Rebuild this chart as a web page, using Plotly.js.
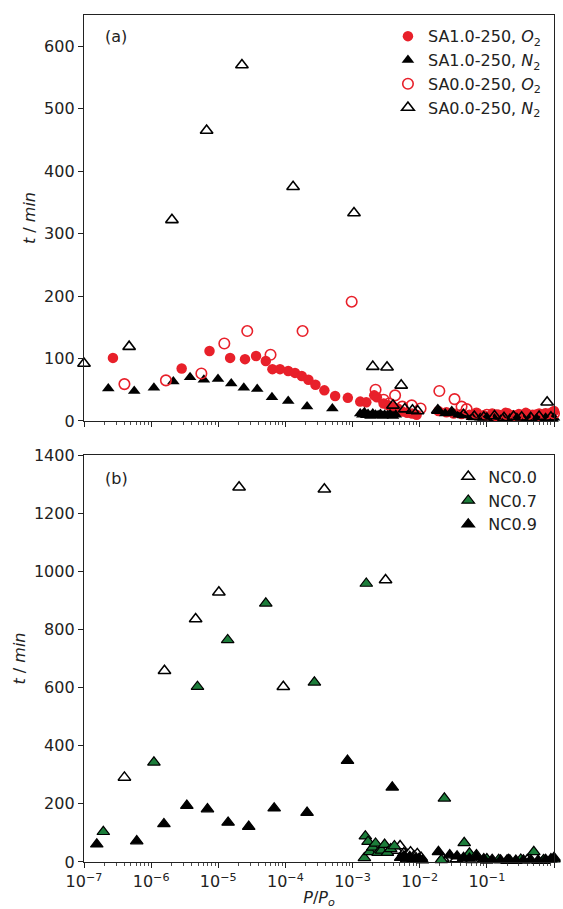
<!DOCTYPE html>
<html>
<head>
<meta charset="utf-8">
<script src="https://cdn.plot.ly/plotly-3.0.1.min.js"></script>
<style>html,body{margin:0;padding:0;background:#fff;}#chart{width:563px;height:909px;}</style>
</head>
<body>
<div id="chart"></div>
<script>
// ---------- Panel (a) data ----------
const sa10O2_x = [2.7e-7, 2.85e-6, 7.4e-6, 1.5e-5, 2.5e-5, 3.65e-5, 5.1e-5, 6.4e-5, 8.3e-5, 1.1e-4, 1.39e-4, 1.75e-4, 2.2e-4, 2.8e-4, 3.8e-4, 5.5e-4, 8.5e-4, 1.3e-3, 1.6e-3, 2.1e-3, 2.3e-3, 2.9e-3, 3.4e-3, 4.0e-3, 4.7e-3, 5.5e-3, 6.5e-3, 7.7e-3, 9e-3, 1.9e-2, 2.5e-2, 3.2e-2, 4.2e-2, 5.5e-2, 7e-2, 9e-2, 0.12, 0.15, 0.19, 0.24, 0.3, 0.38, 0.48, 0.6, 0.75, 0.9, 1.0];
const sa10O2_t = [101, 84, 112, 101, 99, 104, 96, 83, 83, 80, 77, 72, 66, 58, 49, 40, 37, 31, 30, 41, 38, 28, 25, 22, 20, 15, 13, 12, 10, 16, 14, 12, 11, 10, 12, 9, 12, 10, 13, 9, 11, 13, 10, 12, 11, 13, 16];

const sa10N2_x = [2.3e-7, 5.6e-7, 1.1e-6, 2.14e-6, 3.8e-6, 6.1e-6, 9.9e-6, 1.56e-5, 2.4e-5, 3.8e-5, 6.3e-5, 1.1e-4, 2.1e-4, 5.0e-4,
  1.3e-3, 1.4e-3, 1.5e-3, 1.6e-3, 1.7e-3, 1.85e-3, 2.0e-3, 2.2e-3, 2.4e-3, 2.6e-3, 2.8e-3, 3.0e-3, 3.3e-3, 3.6e-3, 4.0e-3, 4.4e-3,
  1.9e-2, 2.4e-2, 3.0e-2, 3.8e-2, 4.6e-2, 6e-2, 8e-2, 0.1, 0.13, 0.17, 0.22, 0.28, 0.35, 0.45, 0.55, 0.65, 0.75, 0.85, 0.95, 1.0];
const sa10N2_t = [52, 48, 53, 63, 70, 66, 67, 60, 53, 51, 38, 32, 23, 20,
  12, 10, 14, 9, 11, 8, 12, 10, 9, 11, 8, 10, 9, 11, 8, 10,
  17, 12, 13, 10, 9, 6, 5, 6, 4, 5, 4, 5, 4, 5, 4, 3, 5, 4, 3, 5];

const sa00O2_x = [4.0e-7, 1.66e-6, 5.6e-6, 1.23e-5, 2.7e-5, 6.0e-5, 1.8e-4, 9.7e-4, 2.2e-3, 2.9e-3, 3.5e-3, 4.3e-3, 5.5e-3, 7.6e-3, 1.03e-2, 1.96e-2, 3.3e-2, 4.2e-2, 5e-2, 7e-2, 0.1, 0.14, 0.2, 0.28, 0.4, 0.55, 0.75, 1.0];
const sa00O2_t = [59, 65, 76, 124, 144, 106, 144, 191, 50, 34, 28, 41, 23, 25, 20, 48, 35, 23, 19, 12, 10, 9, 11, 8, 10, 9, 11, 12];

const sa00N2_x = [1e-7, 4.7e-7, 2.04e-6, 6.7e-6, 2.25e-5, 1.3e-4, 1.05e-3, 2.0e-3, 3.26e-3, 5.3e-3, 4.0e-3, 6.0e-3, 7.8e-3, 9.3e-3, 1.86e-2, 3.0e-2, 4.5e-2, 6.5e-2, 0.09, 0.13, 0.18, 0.25, 0.33, 0.45, 0.6, 0.79, 0.9];
const sa00N2_t = [92, 119, 322, 465, 570, 375, 333, 87, 86, 57, 25, 19, 17, 16, 17, 14, 10, 7, 6, 8, 5, 7, 6, 5, 7, 30, 6];

// ---------- Panel (b) data ----------
const nc00_x = [4.0e-7, 1.58e-6, 4.6e-6, 1.02e-5, 2.04e-5, 9.3e-5, 3.8e-4, 3.1e-3, 4.5e-3, 5.1e-3, 5.8e-3, 6.5e-3, 7.3e-3, 8.2e-3, 9.2e-3, 1.05e-2, 2.2e-2, 3.5e-2, 6e-2, 0.1, 0.2, 0.4, 0.7];
const nc00_t = [291, 658, 836, 928, 1289, 603, 1282, 970, 40, 55, 30, 25, 34, 20, 28, 15, 12, 10, 8, 6, 5, 7, 5];

const nc07_x = [1.94e-7, 1.1e-6, 4.9e-6, 1.38e-5, 5.1e-5, 2.7e-4, 1.6e-3, 1.5e-3, 1.55e-3, 1.7e-3, 1.8e-3, 2.0e-3, 2.2e-3, 2.4e-3, 2.7e-3, 3.0e-3, 3.3e-3, 3.7e-3, 4.2e-3, 2.33e-2, 4.6e-2, 2.1e-2, 5.5e-2, 7e-2, 0.1, 0.15, 0.22, 0.32, 0.5, 0.7, 1.0];
const nc07_t = [104, 343, 603, 764, 890, 618, 958, 14, 89, 70, 35, 50, 64, 32, 40, 60, 32, 45, 55, 219, 66, 7, 30, 24, 10, 8, 6, 9, 35, 7, 10];

const nc09_x = [1.55e-7, 6.1e-7, 1.55e-6, 3.4e-6, 6.9e-6, 1.4e-5, 2.84e-5, 6.8e-5, 2.1e-4, 8.4e-4, 3.9e-3, 5.2e-3, 5.8e-3, 6.4e-3, 7.1e-3, 7.9e-3, 8.8e-3, 9.8e-3, 1.1e-2, 1.9e-2, 2.8e-2, 3.6e-2, 4.5e-2, 5.5e-2, 7e-2, 9e-2, 0.12, 0.16, 0.21, 0.27, 0.35, 0.45, 0.58, 0.75, 0.9, 1.0];
const nc09_t = [61, 72, 131, 194, 182, 136, 122, 185, 170, 349, 257, 15, 20, 10, 18, 8, 14, 12, 6, 35, 24, 20, 15, 12, 18, 10, 8, 6, 8, 5, 6, 7, 5, 8, 10, 15];

// ---------- tick labels ----------
const xTickVals = [1e-7, 1e-6, 1e-5, 1e-4, 1e-3, 1e-2, 1e-1, 1e0];
const xTickText = ['10<sup>−7</sup>', '10<sup>−6</sup>', '10<sup>−5</sup>', '10<sup>−4</sup>', '10<sup>−3</sup>', '10<sup>−2</sup>', '10<sup>−1</sup>', '10<sup>0</sup>'];
const yTicksA = [0, 100, 200, 300, 400, 500, 600];
const yTicksB = [0, 200, 400, 600, 800, 1000, 1200, 1400];

const labelsA = ['SA1.0-250, <i>O</i><sub>2</sub>', 'SA1.0-250, <i>N</i><sub>2</sub>', 'SA0.0-250, <i>O</i><sub>2</sub>', 'SA0.0-250, <i>N</i><sub>2</sub>'];
const labelsB = ['NC0.0', 'NC0.7', 'NC0.9'];

const RED = '#e8202a';
const GREEN = '#1c7d3a';
const FONT = 'DejaVu Sans, sans-serif';
const FS = 16;

// minor tick positions (2..9 per decade)
const minorVals = [];
for (let e = -7; e < 0; e++) for (let m = 2; m <= 9; m++) minorVals.push(m * Math.pow(10, e));

const traces = [
  {x: sa10O2_x, y: sa10O2_t, name: labelsA[0], mode: 'markers', type: 'scatter', xaxis: 'x', yaxis: 'y', legend: 'legend', cliponaxis: false,
   marker: {symbol: 'circle', size: 10.5, color: RED, line: {width: 0}}},
  {x: sa10N2_x, y: sa10N2_t, name: labelsA[1], mode: 'markers', type: 'scatter', xaxis: 'x', yaxis: 'y', legend: 'legend', cliponaxis: false,
   marker: {symbol: 'triangle-up', size: 11, color: '#000', line: {width: 0}}},
  {x: sa00O2_x, y: sa00O2_t, name: labelsA[2], mode: 'markers', type: 'scatter', xaxis: 'x', yaxis: 'y', legend: 'legend', cliponaxis: false,
   marker: {symbol: 'circle-open', size: 10.5, color: RED, line: {width: 1.6, color: RED}}},
  {x: sa00N2_x, y: sa00N2_t, name: labelsA[3], mode: 'markers', type: 'scatter', xaxis: 'x', yaxis: 'y', legend: 'legend', cliponaxis: false,
   marker: {symbol: 'triangle-up-open', size: 11, color: '#000', line: {width: 1.6, color: '#000'}}},

  {x: nc00_x, y: nc00_t, name: labelsB[0], mode: 'markers', type: 'scatter', xaxis: 'x2', yaxis: 'y2', legend: 'legend2', cliponaxis: false,
   marker: {symbol: 'triangle-up', size: 11, color: '#fff', line: {width: 1.5, color: '#000'}}},
  {x: nc07_x, y: nc07_t, name: labelsB[1], mode: 'markers', type: 'scatter', xaxis: 'x2', yaxis: 'y2', legend: 'legend2', cliponaxis: false,
   marker: {symbol: 'triangle-up', size: 11, color: GREEN, line: {width: 1.2, color: '#000'}}},
  {x: nc09_x, y: nc09_t, name: labelsB[2], mode: 'markers', type: 'scatter', xaxis: 'x2', yaxis: 'y2', legend: 'legend2', cliponaxis: false,
   marker: {symbol: 'triangle-up', size: 11, color: '#000', line: {width: 1.2, color: '#000'}}}
];

const axBase = {
  showline: true, mirror: true, linecolor: '#222', linewidth: 1.2,
  ticks: 'outside', ticklen: 5, tickwidth: 1, tickcolor: '#222',
  showgrid: false, zeroline: false,
  tickfont: {family: FONT, size: FS, color: '#222'}
};
const xBase = Object.assign({}, axBase, {
  type: 'log', range: [-7, 0], tickmode: 'array', tickvals: xTickVals, ticktext: xTickText,
  minor: {tickmode: 'array', tickvals: minorVals, ticks: 'outside', ticklen: 3, tickwidth: 0.8, tickcolor: '#222', showgrid: false}
});

const layout = {
  width: 563, height: 909,
  margin: {l: 84, r: 9, t: 15, b: 47},
  paper_bgcolor: '#fff', plot_bgcolor: '#fff',
  font: {family: FONT, size: FS, color: '#222'},
  showlegend: true,
  xaxis: Object.assign({}, xBase, {domain: [0, 1], anchor: 'y', showticklabels: false}),
  yaxis: Object.assign({}, axBase, {domain: [0.5207, 1], anchor: 'x', range: [0, 650], tickmode: 'array', tickvals: yTicksA,
    title: {text: '<i>t</i> / <i>min</i>', font: {family: FONT, size: FS, color: '#222'}, standoff: 4}}),
  xaxis2: Object.assign({}, xBase, {domain: [0, 1], anchor: 'y2',
    title: {text: '<i>P</i>/<i>P</i><sub><i>o</i></sub>', font: {family: FONT, size: FS, color: '#222'}, standoff: 4}}),
  yaxis2: Object.assign({}, axBase, {domain: [0, 0.4805], anchor: 'x2', range: [0, 1400], tickmode: 'array', tickvals: yTicksB,
    title: {text: '<i>t</i> / <i>min</i>', font: {family: FONT, size: FS, color: '#222'}, standoff: 4}}),
  legend: {x: 0.985, xanchor: 'right', y: 0.995, yanchor: 'top', bgcolor: 'rgba(0,0,0,0)', borderwidth: 0,
    font: {family: FONT, size: FS, color: '#222'}},
  legend2: {x: 0.975, xanchor: 'right', y: 0.475, yanchor: 'top', bgcolor: 'rgba(0,0,0,0)', borderwidth: 0,
    font: {family: FONT, size: FS, color: '#222'}},
  annotations: [
    {text: '(a)', xref: 'paper', yref: 'paper', x: 0.04, y: 0.975, xanchor: 'left', yanchor: 'middle', showarrow: false,
     font: {family: FONT, size: FS, color: '#222'}},
    {text: '(b)', xref: 'paper', yref: 'paper', x: 0.04, y: 0.453, xanchor: 'left', yanchor: 'middle', showarrow: false,
     font: {family: FONT, size: FS, color: '#222'}}
  ]
};

Plotly.newPlot('chart', traces, layout, {displayModeBar: false, staticPlot: true});
</script>
</body>
</html>
